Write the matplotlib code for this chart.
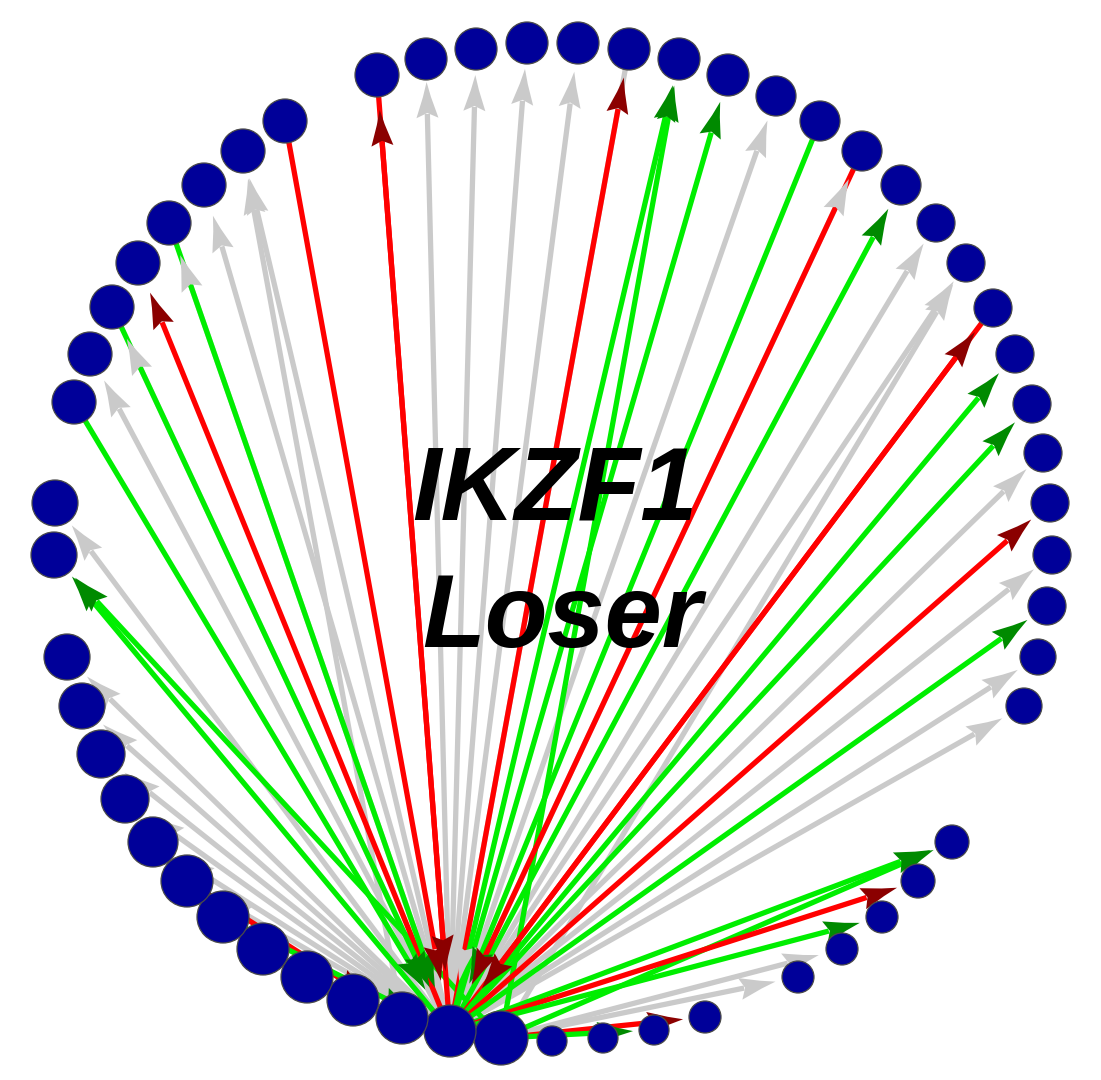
import numpy as np
import matplotlib
matplotlib.use('Agg')
import matplotlib.pyplot as plt
from matplotlib.patches import Circle

# node centres / radii in picture pixels, numbered 1..55 going clockwise
node_x = [74, 90, 112, 138, 169, 204, 243, 285, 377, 426,
          476, 527, 578, 629, 679, 728, 776, 820, 862, 901,
          936, 966, 993, 1015, 1032, 1043, 1050, 1052, 1047, 1038,
          1024, 952, 918, 882, 842, 798, 705, 654, 603, 552,
          501, 450, 402, 353, 307, 263, 223, 187, 153, 125,
          101, 82, 67, 54, 55]
node_y = [402, 354, 307, 263, 223, 185, 151, 121, 75, 59,
          49, 43, 43, 49, 59, 75, 96, 121, 151, 185,
          223, 263, 308, 354, 404, 453, 503, 555, 606, 657,
          706, 842, 881, 917, 949, 977, 1017, 1030, 1038, 1041,
          1038, 1031, 1018, 1000, 977, 949, 917, 881, 842, 799,
          754, 706, 657, 555, 503]
node_r = [22, 22, 22, 22, 22, 22, 22, 22, 22, 21,
          21, 21, 21, 21, 21, 21, 20, 20, 20, 20,
          19, 19, 19, 19, 19, 19, 19, 19, 19, 18,
          18, 17, 17, 16, 16, 16, 16, 15, 15, 15,
          27, 26, 26, 26, 26, 26, 26, 26, 25, 24,
          24, 23, 23, 23, 23]

# edges: source node, target node, kind, gap between target rim and arrow tip
edge_src = [42, 42, 41, 42, 42, 42, 42, 42, 42, 42,
            42, 42, 42, 42, 42, 43, 42, 42, 42, 42,
            42, 42, 42, 41, 42, 42, 42, 42, 42, 42,
            41, 42, 42, 42, 42, 42, 42, 42, 42, 42,
            42, 41, 42, 42, 41, 41, 41, 41,
            1, 3, 5, 8, 9, 14, 18, 19, 23, 48, 47]
edge_dst = [55, 54, 54, 53, 52, 51, 50, 49, 48, 2,
            3, 4, 5, 6, 7, 7, 9, 10, 11, 12,
            13, 14, 15, 15, 16, 17, 19, 20, 21, 22,
            22, 23, 24, 25, 26, 27, 28, 29, 30, 31,
            32, 32, 33, 34, 35, 36, 37, 38,
            42, 42, 42, 42, 42, 42, 42, 42, 42, 43, 42]
edge_kind = ['grey', 'green', 'green', 'grey', 'grey', 'grey', 'grey', 'grey', 'grey', 'grey',
             'grey', 'red', 'grey', 'grey', 'grey', 'grey', 'red', 'grey', 'grey', 'grey',
             'grey', 'red', 'green', 'green', 'green', 'grey', 'grey', 'green', 'grey', 'grey',
             'grey', 'red', 'green', 'green', 'grey', 'red', 'grey', 'green', 'grey', 'grey',
             'green', 'green', 'red', 'green', 'grey', 'grey', 'red', 'green',
             'green', 'green', 'green', 'red', 'red', 'grey', 'green', 'red', 'red', 'red', 'green']
edge_gap = [5, 5, 8, 5, 5, 6, 5, 5, 8, 8,
            13, 10, 12, 10, 6, 6, 13, 2, 5, 5,
            8, 8, 6, 6, 7, 6, 11, 7, 5, 3,
            6, 11, 6, 6, 4, 6, 4, 5, 6, 7,
            6, 3, 5, 7, 8, 7, 6, 6,
            22, 22, 20, 25, 34, 25, 25, 25, 27, 10, 12]

line_col = {'grey': '#cacaca', 'green': '#00ee00', 'red': '#ff0000'}
head_col = {'grey': '#cacaca', 'green': '#008a00', 'red': '#8b0000'}

title_1 = 'IKZF1'
title_2 = 'Loser'


def arrow(ax, x0, y0, x1, y1, r1, gap, kind):
    d = np.array([x1 - x0, y1 - y0], dtype=float)
    u = d / np.hypot(*d)
    p = np.array([-u[1], u[0]])
    tip = np.array([x1, y1]) - u * (r1 + gap)
    base = tip - u * 32
    ax.plot([x0, base[0]], [y0, base[1]], color=line_col[kind], lw=3.8,
            solid_capstyle='butt', zorder=1)
    # swept arrow head
    pts = [tip,
           tip - u * 15 + p * 4,
           tip - u * 36 + p * 11,
           tip - u * 31,
           tip - u * 36 - p * 11,
           tip - u * 15 - p * 4]
    pts = np.array(pts)
    ax.fill(pts[:, 0], pts[:, 1], color=head_col[kind], lw=0, zorder=2)


fig = plt.figure(figsize=(11.01, 10.80), dpi=100)
ax = fig.add_axes([0, 0, 1, 1])
ax.set_xlim(0, 1101)
ax.set_ylim(1080, 0)
ax.axis('off')

order = [i for i in range(len(edge_src)) if edge_kind[i] == 'grey'] + \
        [i for i in range(len(edge_src)) if edge_kind[i] != 'grey']
for i in order:
    s, t = edge_src[i] - 1, edge_dst[i] - 1
    arrow(ax, node_x[s], node_y[s], node_x[t], node_y[t], node_r[t],
          edge_gap[i], edge_kind[i])

for x, y, r in zip(node_x, node_y, node_r):
    ax.add_patch(Circle((x, y), r, facecolor='#000099', edgecolor='#4a4a4a',
                        lw=0.9, zorder=3))

ax.text(555, 519, title_1, ha='center', va='baseline', fontsize=74,
        fontweight='bold', fontstyle='italic', family='Liberation Sans', zorder=4)
ax.text(562, 647, title_2, ha='center', va='baseline', fontsize=74,
        fontweight='bold', fontstyle='italic', family='Liberation Sans', zorder=4)

fig.savefig('out.png', dpi=100)
